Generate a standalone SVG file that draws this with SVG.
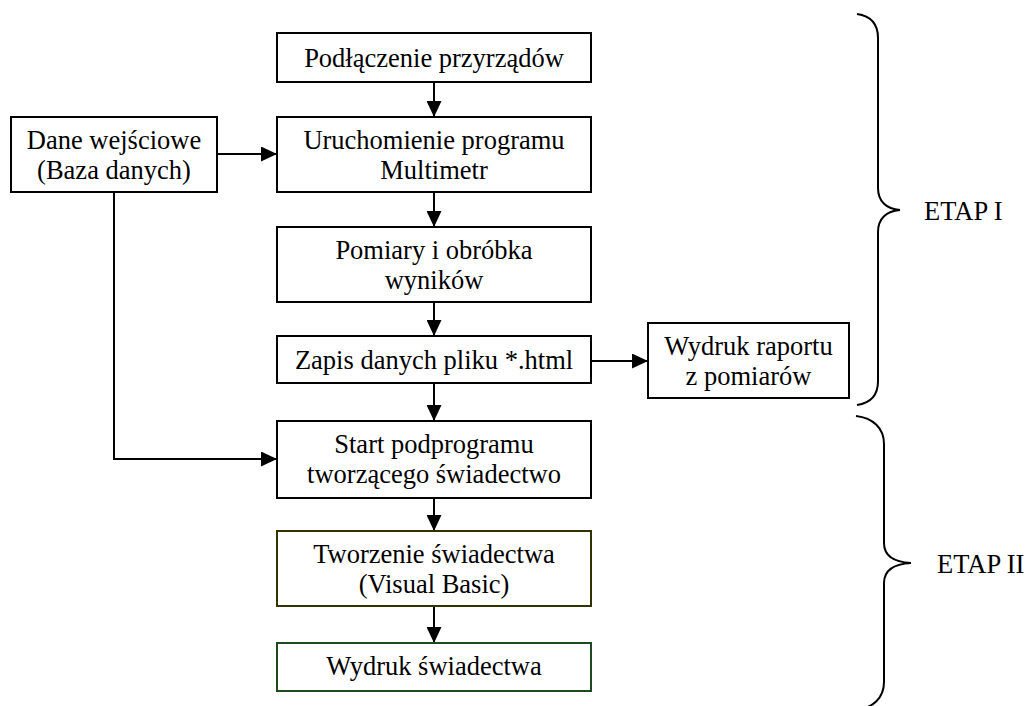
<svg xmlns="http://www.w3.org/2000/svg" width="1028" height="706" viewBox="0 0 1028 706">
  <style>
    .box { fill: #ffffff; stroke: #000000; stroke-width: 2; }
    .box.olive { stroke: #333300; }
    .box.green { stroke: #1f4a1f; }
    .lbl { font-family: "Liberation Serif", "Times New Roman", serif; font-size: 26.5px; fill: #000000; text-anchor: middle; }
    .stage { font-family: "Liberation Serif", "Times New Roman", serif; font-size: 26.5px; fill: #000000; }
    .wire { fill: none; stroke: #000000; stroke-width: 2; }
    .brace { fill: none; stroke: #000000; stroke-width: 2; }
  </style>
  <defs>
    <marker id="arrow" markerUnits="userSpaceOnUse" markerWidth="16" markerHeight="15" refX="16" refY="7.5" orient="auto">
      <path d="M0,0 L16,7.5 L0,15 Z" fill="#000000"/>
    </marker>
  </defs>
  <rect width="1028" height="706" fill="#ffffff"/>

  <!-- connectors -->
  <g id="connectors">
    <line class="wire" x1="434" y1="82" x2="434" y2="117" marker-end="url(#arrow)"/>
    <line class="wire" x1="217" y1="154" x2="277" y2="154" marker-end="url(#arrow)"/>
    <line class="wire" x1="434" y1="192" x2="434" y2="227" marker-end="url(#arrow)"/>
    <line class="wire" x1="434" y1="302" x2="434" y2="336" marker-end="url(#arrow)"/>
    <line class="wire" x1="591" y1="361" x2="648" y2="361" marker-end="url(#arrow)"/>
    <line class="wire" x1="434" y1="383" x2="434" y2="421" marker-end="url(#arrow)"/>
    <polyline class="wire" points="114,192 114,459 277,459" marker-end="url(#arrow)"/>
    <line class="wire" x1="434" y1="498" x2="434" y2="531" marker-end="url(#arrow)"/>
    <line class="wire" x1="434" y1="606" x2="434" y2="643" marker-end="url(#arrow)"/>
  </g>

  <!-- process steps -->
  <g id="podlaczenie">
    <rect class="box" x="277" y="33" width="314" height="49"/>
    <text class="lbl" x="434" y="66.5">Podłączenie przyrządów</text>
  </g>
  <g id="dane-wejsciowe">
    <rect class="box" x="11" y="117" width="206" height="75"/>
    <text class="lbl" x="114" y="148.5">Dane wejściowe</text>
    <text class="lbl" x="114" y="178.5">(Baza danych)</text>
  </g>
  <g id="uruchomienie">
    <rect class="box" x="277" y="117" width="314" height="75"/>
    <text class="lbl" x="434" y="148.5">Uruchomienie programu</text>
    <text class="lbl" x="434" y="178.5">Multimetr</text>
  </g>
  <g id="pomiary">
    <rect class="box" x="277" y="227" width="314" height="75"/>
    <text class="lbl" x="434" y="258.5">Pomiary i obróbka</text>
    <text class="lbl" x="434" y="288.5">wyników</text>
  </g>
  <g id="zapis">
    <rect class="box" x="277" y="336" width="314" height="47"/>
    <text class="lbl" x="434" y="368.5">Zapis danych pliku *.html</text>
  </g>
  <g id="wydruk-raportu">
    <rect class="box" x="648" y="323" width="201" height="75"/>
    <text class="lbl" x="748.5" y="354.5">Wydruk raportu</text>
    <text class="lbl" x="748.5" y="384.5">z pomiarów</text>
  </g>
  <g id="start-podprogramu">
    <rect class="box" x="277" y="421" width="314" height="77"/>
    <text class="lbl" x="434" y="452.5">Start podprogramu</text>
    <text class="lbl" x="434" y="482.5">tworzącego świadectwo</text>
  </g>
  <g id="tworzenie">
    <rect class="box olive" x="277" y="531" width="314" height="75"/>
    <text class="lbl" x="434" y="562.5">Tworzenie świadectwa</text>
    <text class="lbl" x="434" y="592.5">(Visual Basic)</text>
  </g>
  <g id="wydruk-swiadectwa">
    <rect class="box green" x="277" y="643" width="314" height="48"/>
    <text class="lbl" x="434" y="674.5">Wydruk świadectwa</text>
  </g>

  <!-- stage braces -->
  <g id="etap-1">
    <path class="brace" d="M857,14 C871,16 878,24 878,38 L878,188 C878,201 886,209 900,210 C886,211 878,219 878,232 L878,381 C878,395 871,403 857,405"/>
    <text class="stage" x="924" y="220">ETAP I</text>
  </g>
  <g id="etap-2">
    <path class="brace" d="M856,416 C873,418 884,428 884,444 L884,543 C884,556 893,562 911,563 C893,564 884,570 884,583 L884,682 C884,698 873,708 856,710"/>
    <text class="stage" x="937" y="573">ETAP II</text>
  </g>
</svg>
